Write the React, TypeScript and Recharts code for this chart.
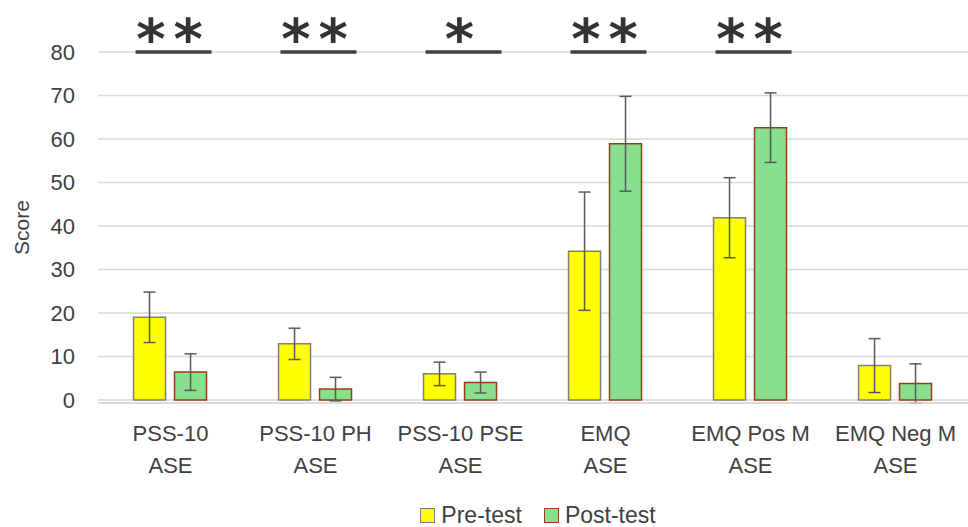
import React from "react";
import { ComposedChart, Bar, Line, XAxis, YAxis, CartesianGrid, ErrorBar, Legend } from "recharts";

const categories = ["PSS-10\nASE", "PSS-10 PH\nASE", "PSS-10 PSE\nASE", "EMQ\nASE", "EMQ Pos M\nASE", "EMQ Neg M\nASE"];
const preTest = [19, 12.9, 6, 34.2, 41.9, 7.9];
const preErr = [5.8, 3.6, 2.7, 13.6, 9.2, 6.2];
const postTest = [6.4, 2.5, 4, 58.9, 62.6, 3.8];
const postErr = [4.2, 2.7, 2.4, 10.9, 8, 4.5];
const significance = ["**", "**", "*", "**", "**", ""];
const yTicks = [0, 10, 20, 30, 40, 50, 60, 70, 80];

const data = categories.map((name, i) => ({
  name,
  pre: preTest[i],
  preErr: preErr[i],
  post: postTest[i],
  postErr: postErr[i],
  sig: significance[i],
  sigLevel: significance[i] ? 80 : null,
}));

const TEXT = "#404040";
const FONT = "'Liberation Sans', Arial, sans-serif";

const CategoryTick = (props: any) => {
  const { x, y, payload } = props;
  const lines = String(payload.value).split("\n");
  return (
    <text x={x} y={y} textAnchor="middle" fill={TEXT} fontSize={22} fontFamily={FONT}>
      {lines.map((l, i) => (
        <tspan key={i} x={x} dy={i === 0 ? 30 : 32}>
          {l}
        </tspan>
      ))}
    </text>
  );
};

const SigMark = (props: any) => {
  const { cx, cy, payload, index } = props;
  if (!payload || !payload.sig || cy == null) return <g key={`sig-${index}`} />;
  return (
    <g key={`sig-${index}`}>
      <line x1={cx - 35} x2={cx + 41} y1={cy} y2={cy} stroke="#404040" strokeWidth={3.5} />
      <text
        x={cx + 3}
        y={cy + 6}
        textAnchor="middle"
        fill="#333"
        fontSize={56}
        fontWeight="bold"
        fontFamily="'DejaVu Sans', sans-serif"
        letterSpacing={8}
      >
        {payload.sig}
      </text>
    </g>
  );
};

const LegendBox = () => (
  <div
    style={{
      display: "flex",
      justifyContent: "center",
      alignItems: "center",
      height: 24,
      fontFamily: FONT,
      fontSize: 23,
      color: TEXT,
      paddingLeft: 108,
    }}
  >
    <span style={{ display: "inline-block", width: 13, height: 13, background: "#FFFF00", border: "1.5px solid #7f7f7f", marginRight: 6 }} />
    <span style={{ marginRight: 22 }}>Pre-test</span>
    <span style={{ display: "inline-block", width: 13, height: 13, background: "#86E08F", border: "1.5px solid #9C3B12", marginRight: 6 }} />
    <span>Post-test</span>
  </div>
);

export default function App() {
  return (
    <div style={{ position: "absolute", left: 0, top: 0, width: 968, height: 527, background: "#fff" }}>
      <ComposedChart
        width={968}
        height={527}
        data={data}
        margin={{ top: 52, right: 0, left: 0, bottom: 0 }}
        barCategoryGap="24.5%"
        barGap={9}
      >
        <CartesianGrid vertical={false} stroke="#d9d9d9" strokeWidth={1.5} />
        <XAxis
          dataKey="name"
          tick={<CategoryTick />}
          tickLine={false}
          axisLine={{ stroke: "#d9d9d9", strokeWidth: 1.5 }}
          height={100}
          interval={0}
        />
        <YAxis
          domain={[0, 80]}
          ticks={yTicks}
          width={98}
          axisLine={false}
          tickLine={false}
          tickMargin={17}
          tick={{ fill: TEXT, fontSize: 22, fontFamily: FONT }}
          label={{
            value: "Score",
            angle: -90,
            position: "insideLeft",
            offset: 22,
            style: { textAnchor: "middle", fill: TEXT, fontSize: 21, fontFamily: FONT },
          }}
        />
        <Legend verticalAlign="bottom" content={<LegendBox />} />
        <Bar dataKey="pre" name="Pre-test" fill="#FFFF00" stroke="#7f7f7f" strokeWidth={1.5} isAnimationActive={false}>
          <ErrorBar dataKey="preErr" width={6} stroke="#595959" strokeWidth={1.5} />
        </Bar>
        <Bar dataKey="post" name="Post-test" fill="#86E08F" stroke="#9C3B12" strokeWidth={1.5} isAnimationActive={false}>
          <ErrorBar dataKey="postErr" width={6} stroke="#595959" strokeWidth={1.5} />
        </Bar>
        <Line
          dataKey="sigLevel"
          stroke="none"
          dot={SigMark}
          activeDot={false}
          legendType="none"
          connectNulls={false}
          isAnimationActive={false}
        />
      </ComposedChart>
    </div>
  );
}
